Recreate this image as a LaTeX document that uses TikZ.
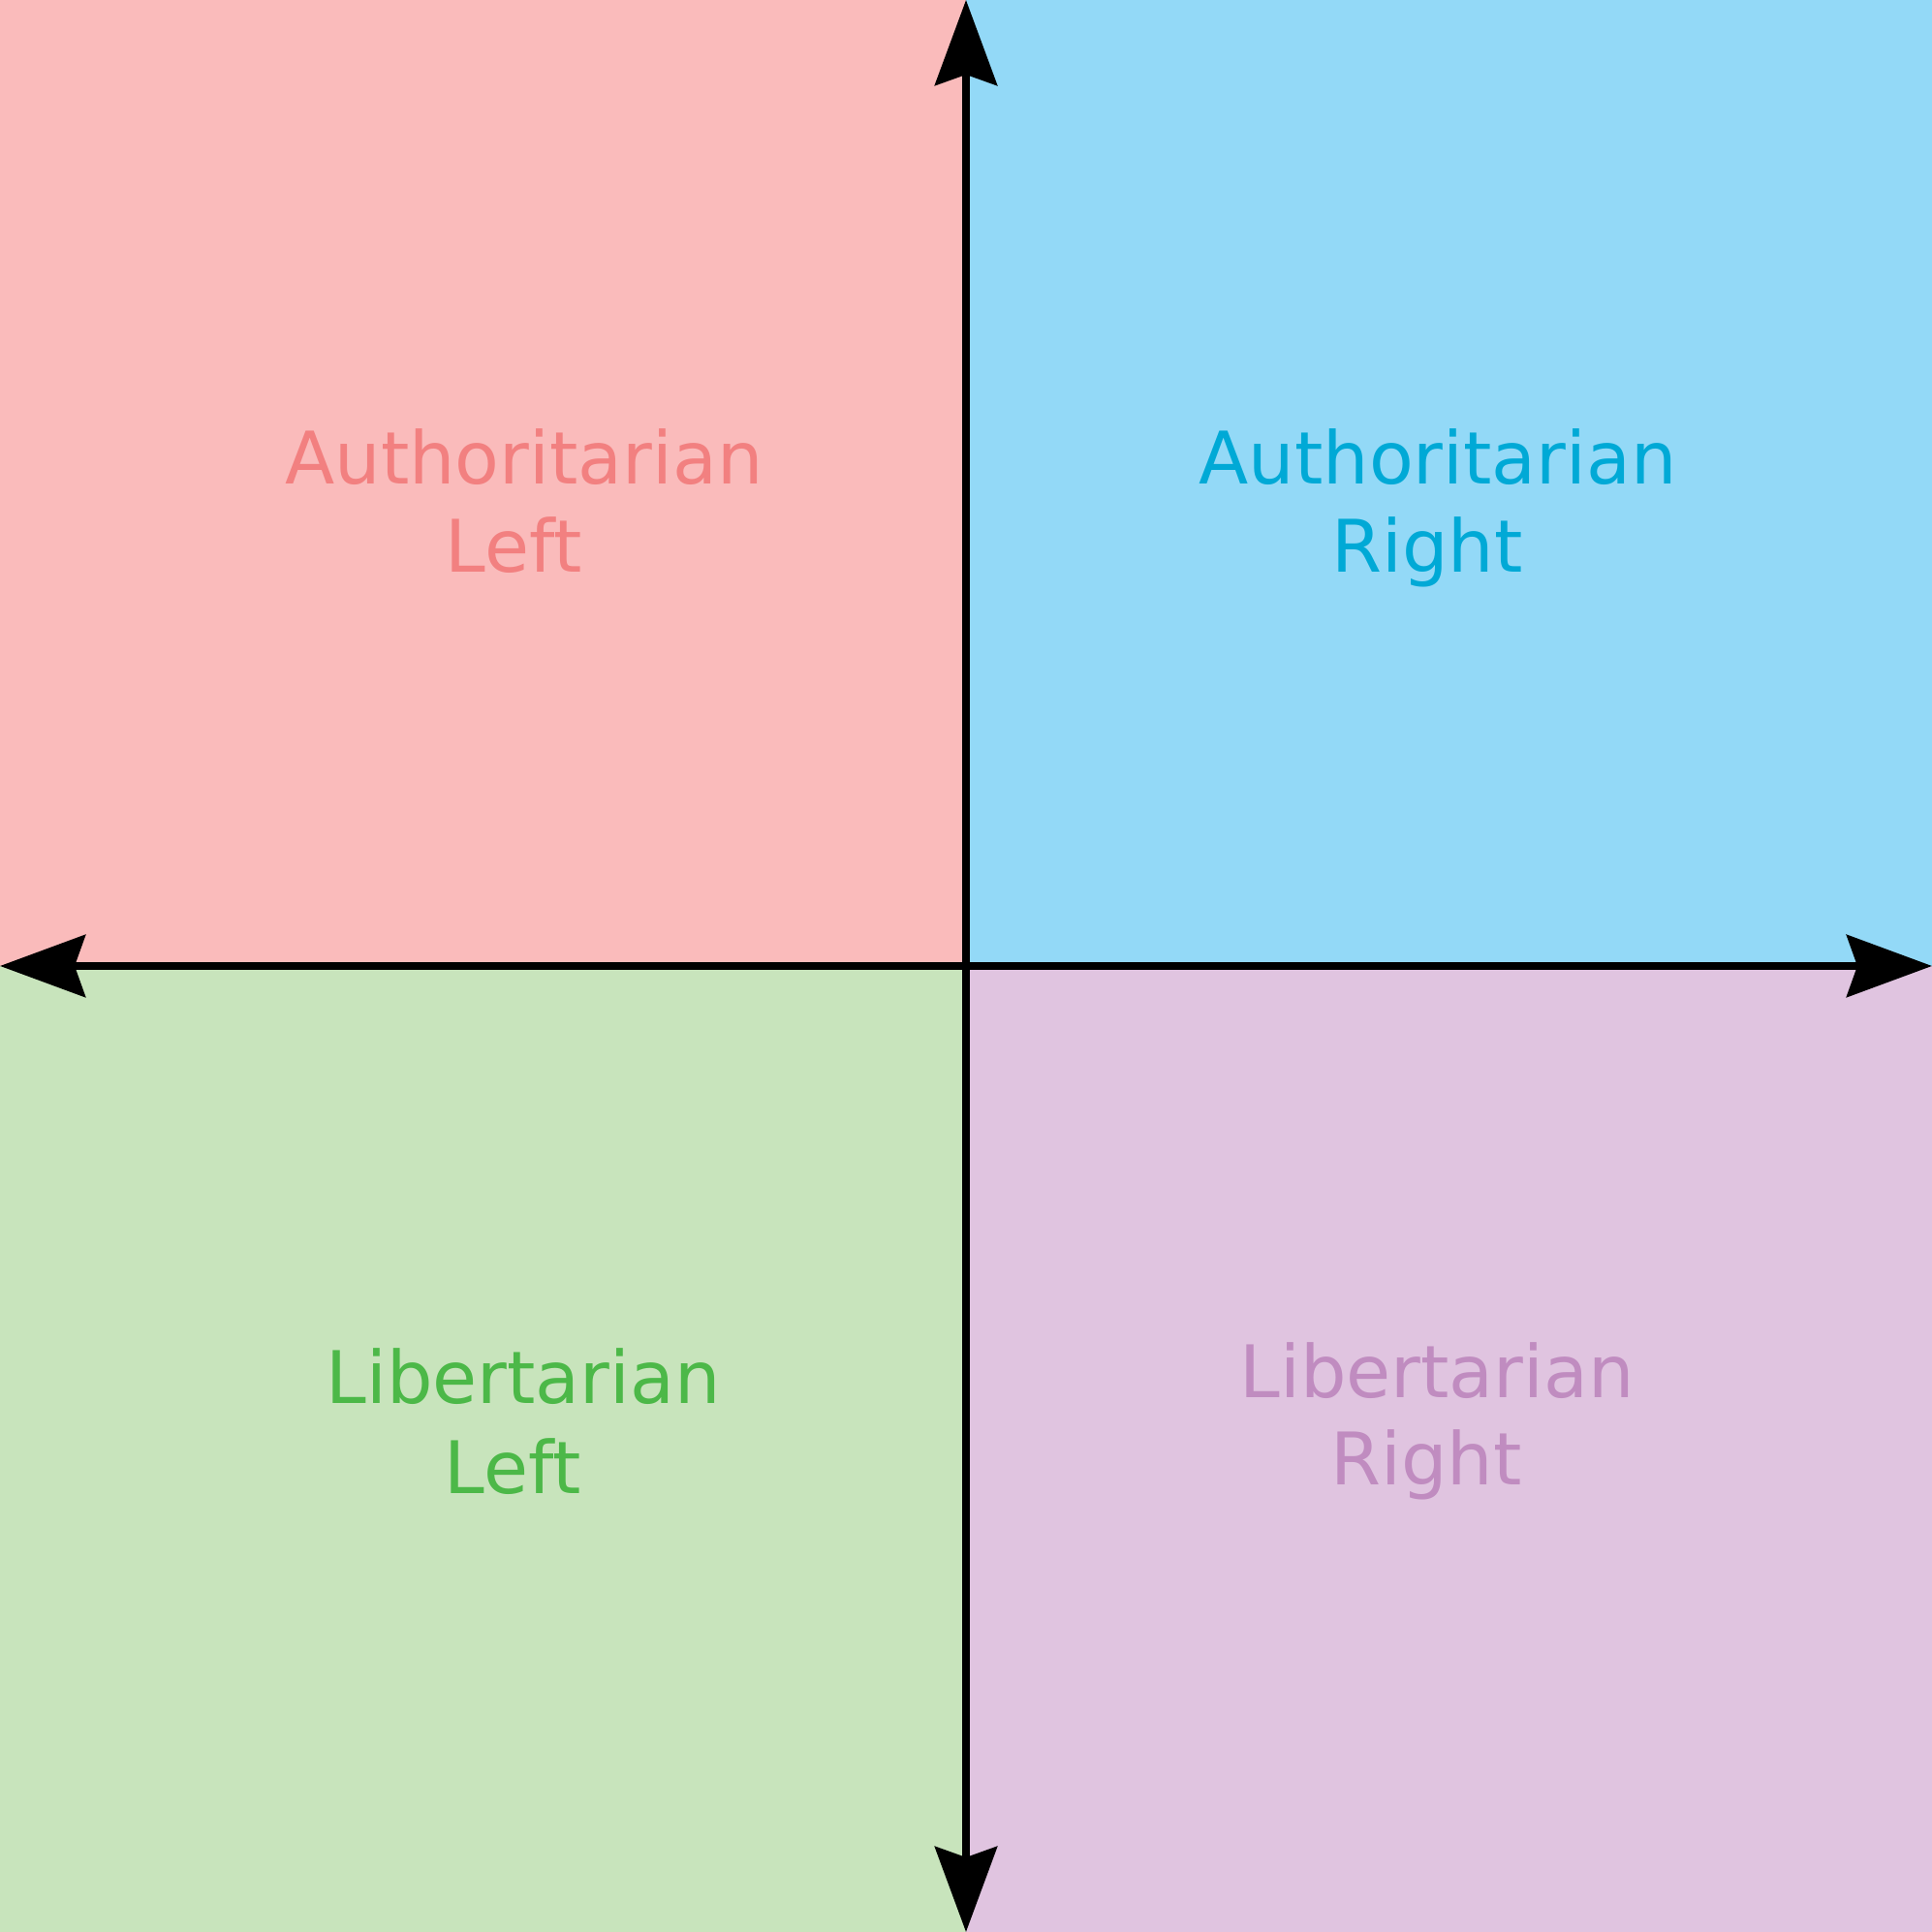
\documentclass[tikz,border=0pt]{standalone}
\usepackage{fontspec}
\setmainfont{DejaVu Sans}
\usetikzlibrary{arrows.meta}

\definecolor{alfill}{RGB}{250,187,187}
\definecolor{altext}{RGB}{242,128,128}
\definecolor{arfill}{RGB}{147,217,247}
\definecolor{artext}{RGB}{0,169,214}
\definecolor{llfill}{RGB}{200,228,188}
\definecolor{lltext}{RGB}{76,184,72}
\definecolor{lrfill}{RGB}{224,196,224}
\definecolor{lrtext}{RGB}{192,140,192}

\begin{document}
\begin{tikzpicture}
  \tikzstyle{label} = [inner sep=0pt, anchor=base, font=\fontsize{21.3pt}{26pt}\selectfont]
  \tikzstyle{axis} = [line width=0.08cm, black, {Stealth[length=0.88cm, width=0.64cm, inset=0.11cm]}-{Stealth[length=0.88cm, width=0.64cm, inset=0.11cm]}]

  \useasboundingbox (0,0) rectangle (19.94,19.94);
  \fill [alfill] (0,9.97) rectangle (9.97,19.94);
  \fill [arfill] (9.97,9.97) rectangle (19.94,19.94);
  \fill [llfill] (0,0) rectangle (9.97,9.97);
  \fill [lrfill] (9.97,0) rectangle (19.94,9.97);

  \coordinate (west) at (0,9.97);
  \coordinate (east) at (19.94,9.97);
  \coordinate (north) at (9.97,19.94);
  \coordinate (south) at (9.97,0);

  \node (al1) [label, text=altext] at (5.41,14.94) {Authoritarian};
  \node (al2) [label, text=altext] at (5.30,14.03) {Left};
  \node (ar1) [label, text=artext] at (14.84,14.94) {Authoritarian};
  \node (ar2) [label, text=artext] at (14.73,14.03) {Right};
  \node (ll1) [label, text=lltext] at (5.40,5.45) {Libertarian};
  \node (ll2) [label, text=lltext] at (5.29,4.52) {Left};
  \node (lr1) [label, text=lrtext] at (14.83,5.51) {Libertarian};
  \node (lr2) [label, text=lrtext] at (14.72,4.61) {Right};

  \draw [axis] (west) -- (east);
  \draw [axis] (south) -- (north);
\end{tikzpicture}
\end{document}
